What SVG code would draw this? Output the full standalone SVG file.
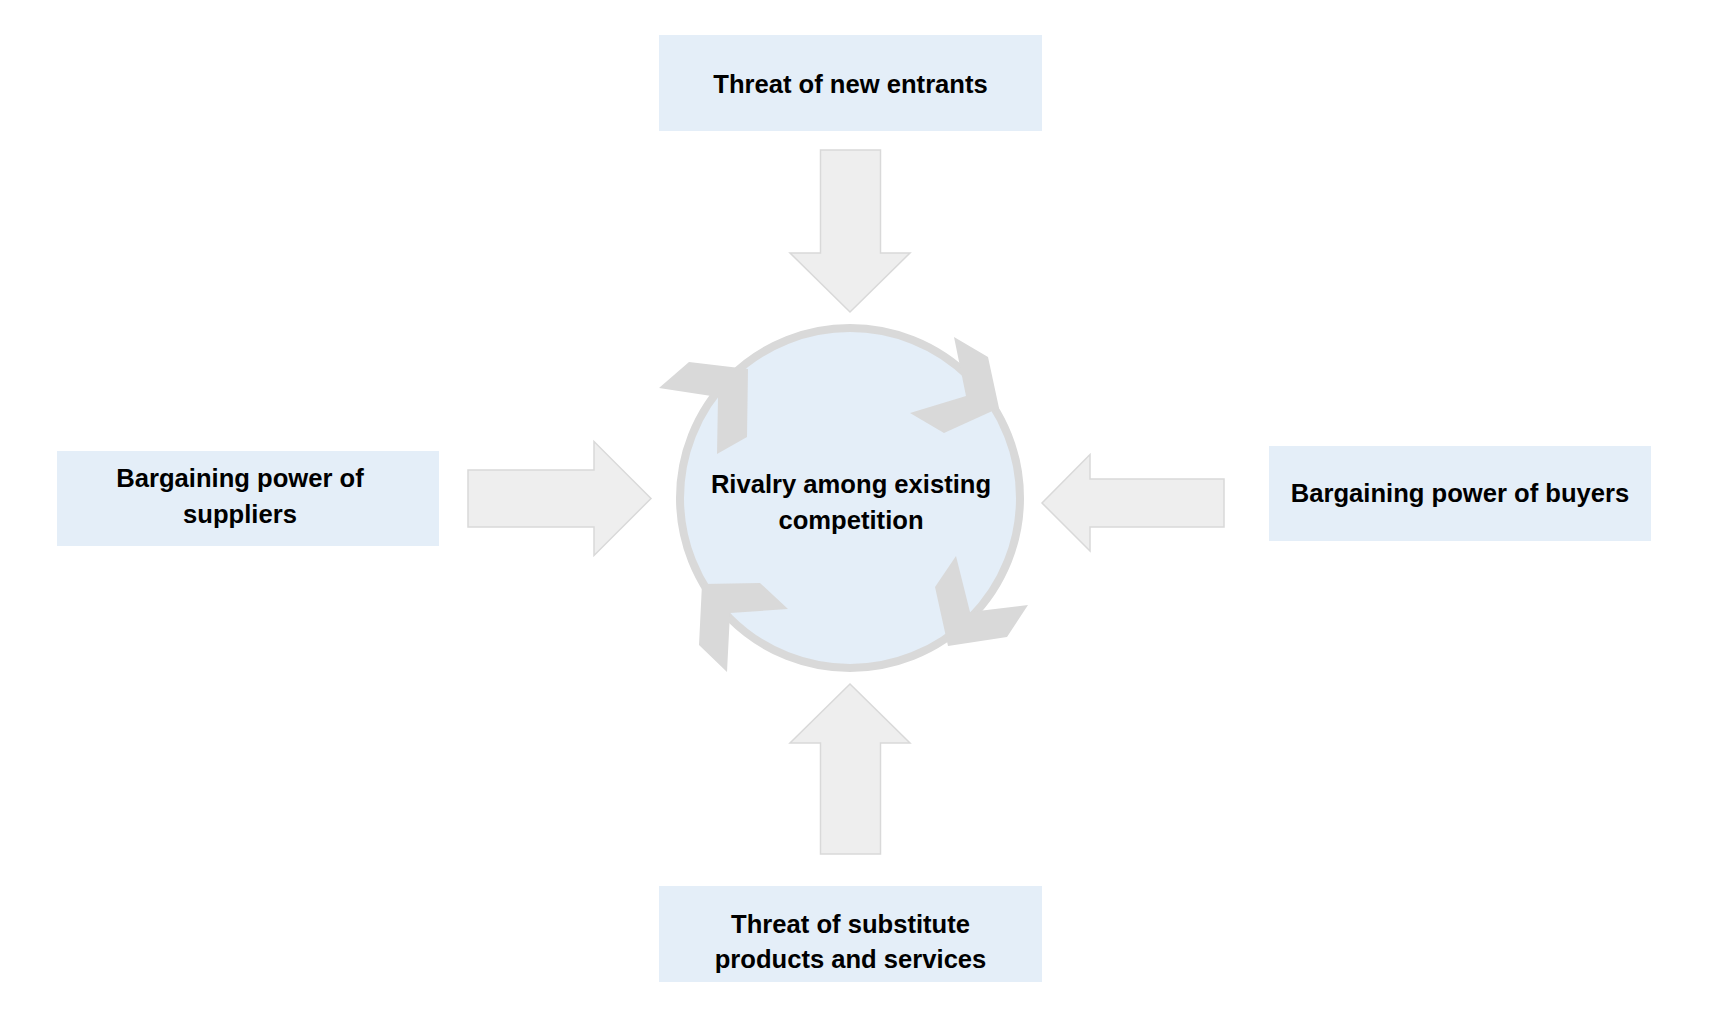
<svg xmlns="http://www.w3.org/2000/svg" width="1716" height="1026" viewBox="0 0 1716 1026">
<style>
.box{fill:#e4eef8;}
.lbl{font-family:"Liberation Sans",Arial,sans-serif;font-weight:bold;font-size:25.6px;fill:#000;text-anchor:middle;}
.big{fill:#eeeeee;stroke:#d9d9d9;stroke-width:1.5;stroke-linejoin:miter;}
.cyc{fill:#d9d9d9;}
</style>
<rect width="1716" height="1026" fill="#ffffff"/>
<g id="connectors">
<polygon class="big" points="820.5,150 880.5,150 880.5,253 910,253 850,312 790,253 820.5,253"/>
<polygon class="big" points="820.5,854 880.5,854 880.5,743 910,743 850,684 790,743 820.5,743"/>
<polygon class="big" points="468,470 594,470 594,441.5 651,498.5 594,555.5 594,527 468,527"/>
<polygon class="big" points="1224,479 1090,479 1090,454.5 1042,503 1090,551 1090,527 1224,527"/>
</g>
<g id="rivalry">
<circle cx="850" cy="498" r="170" fill="#e4eef8" stroke="#d9d9d9" stroke-width="8"/>
<polygon class="cyc" points="659,388 689,362 748,369 747,437 717,454 718,397"/>
<polygon class="cyc" points="954,337 988,357 999,408 944,433 910,413 966,396"/>
<polygon class="cyc" points="956,556 935,587 948,646 1007,637 1028,605 970,612"/>
<polygon class="cyc" points="702,584 760,583 788,609 730,613 727,672 699,645"/>
<text class="lbl" x="851" y="493">Rivalry among existing</text>
<text class="lbl" x="851" y="529">competition</text>
</g>
<g id="new-entrants">
<rect class="box" x="659" y="35" width="383" height="96"/>
<text class="lbl" x="850.5" y="93">Threat of new entrants</text>
</g>
<g id="suppliers">
<rect class="box" x="57" y="451" width="382" height="95"/>
<text class="lbl" x="240" y="487">Bargaining power of</text>
<text class="lbl" x="240" y="523">suppliers</text>
</g>
<g id="buyers">
<rect class="box" x="1269" y="446" width="382" height="95"/>
<text class="lbl" x="1460" y="502">Bargaining power of buyers</text>
</g>
<g id="substitutes">
<rect class="box" x="659" y="886" width="383" height="96"/>
<text class="lbl" x="850.5" y="933">Threat of substitute</text>
<text class="lbl" x="850.5" y="968">products and services</text>
</g>
</svg>
